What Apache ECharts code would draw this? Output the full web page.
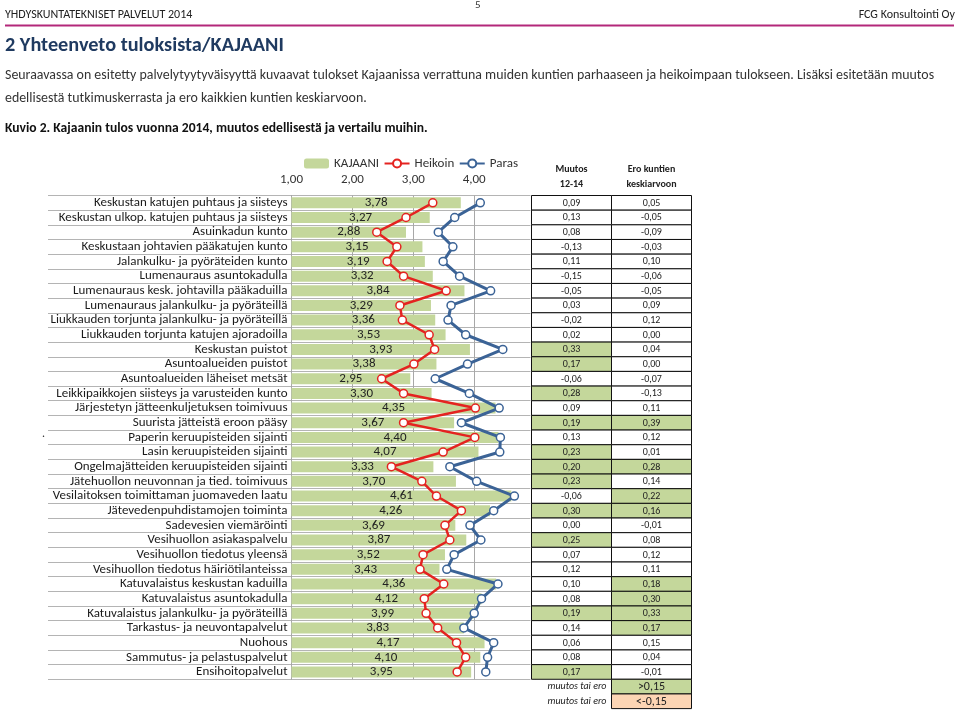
<!DOCTYPE html>
<html><head><meta charset="utf-8">
<script src="https://cdn.jsdelivr.net/npm/echarts@6/dist/echarts.min.js"></script>
<style>html,body{margin:0;padding:0;background:#fff}#c{width:959px;height:711px}</style>
</head><body><div id="c"></div>
<script>
const categories = [
 'Keskustan katujen puhtaus ja siisteys','Keskustan ulkop. katujen puhtaus ja siisteys','Asuinkadun kunto',
 'Keskustaan johtavien pääkatujen kunto','Jalankulku- ja pyöräteiden kunto','Lumenauraus asuntokadulla',
 'Lumenauraus kesk. johtavilla pääkaduilla','Lumenauraus jalankulku- ja pyöräteillä','Liukkauden torjunta jalankulku- ja pyöräteillä',
 'Liukkauden torjunta katujen ajoradoilla','Keskustan puistot','Asuntoalueiden puistot','Asuntoalueiden läheiset metsät',
 'Leikkipaikkojen siisteys ja varusteiden kunto','Järjestetyn jätteenkuljetuksen toimivuus','Suurista jätteistä eroon pääsy',
 'Paperin keruupisteiden sijainti','Lasin keruupisteiden sijainti','Ongelmajätteiden keruupisteiden sijainti',
 'Jätehuollon neuvonnan ja tied. toimivuus','Vesilaitoksen toimittaman juomaveden laatu','Jätevedenpuhdistamojen toiminta',
 'Sadevesien viemäröinti','Vesihuollon asiakaspalvelu','Vesihuollon tiedotus yleensä','Vesihuollon tiedotus häiriötilanteissa',
 'Katuvalaistus keskustan kaduilla','Katuvalaistus asuntokadulla','Katuvalaistus jalankulku- ja pyöräteillä',
 'Tarkastus- ja neuvontapalvelut','Nuohous','Sammutus- ja pelastuspalvelut','Ensihoitopalvelut'];
const kajaani = [3.78,3.27,2.88,3.15,3.19,3.32,3.84,3.29,3.36,3.53,3.93,3.38,2.95,3.30,4.35,3.67,4.40,4.07,3.33,3.70,4.61,4.26,3.69,3.87,3.52,3.43,4.36,4.12,3.99,3.83,4.17,4.10,3.95];
const heikoin = [3.32,2.88,2.40,2.73,2.57,2.84,3.54,2.78,2.82,3.26,3.35,3.01,2.48,2.84,4.02,2.84,4.01,3.49,2.64,3.14,3.38,3.79,3.52,3.60,3.16,3.11,3.50,3.18,3.21,3.40,3.71,3.86,3.72];
const paras = [4.10,3.68,3.41,3.65,3.49,3.76,4.27,3.62,3.57,3.86,4.47,3.89,3.36,3.92,4.41,3.79,4.43,4.42,3.60,4.04,4.66,4.32,3.93,4.11,3.67,3.55,4.39,4.12,4.00,3.83,4.32,4.22,4.19];
const muutos = [0.09,0.13,0.08,-0.13,0.11,-0.15,-0.05,0.03,-0.02,0.02,0.33,0.17,-0.06,0.28,0.09,0.19,0.13,0.23,0.20,0.23,-0.06,0.30,0.00,0.25,0.07,0.12,0.10,0.08,0.19,0.14,0.06,0.08,0.17];
const ero = [0.05,-0.05,-0.09,-0.03,0.10,-0.06,-0.05,0.09,0.12,0.00,0.04,0.00,-0.07,-0.13,0.11,0.39,0.12,0.01,0.28,0.14,0.22,0.16,-0.01,0.08,0.12,0.11,0.18,0.30,0.33,0.17,0.15,0.04,-0.01];
const tableHeaders = ['Muutos\n12-14','Ero kuntien\nkeskiarvoon'];
const keyLabel = 'muutos tai ero';
const keyThresholds = ['>0,15','<-0,15'];
const xTickValues = [1,2,3,4];

const FONT = 'Carlito, "Liberation Sans Narrow", "Open Sans", sans-serif';
const GREEN = '#c4d79b', PEACH = '#fcd5b4', RED = '#e42320', BLUE = '#3b6396';
const fmt = v => v.toFixed(2).replace('.', ',');

const ROWH = 14.66, TOP = 195.5, N = categories.length;
const rowIdx = categories.map((_, i) => i);
const tableRows = rowIdx.concat([N, N + 1]);

const cells = [];
rowIdx.forEach(i => { cells.push({col:0,row:i,kind:'v',v:muutos[i]}); cells.push({col:1,row:i,kind:'v',v:ero[i]}); });
keyThresholds.forEach((t, k) => { cells.push({col:0,row:N+k,kind:'key',text:keyLabel}); cells.push({col:1,row:N+k,kind:'box',text:t,fill:k===0?GREEN:PEACH}); });

const chart = echarts.init(document.getElementById('c'), null, {renderer:'canvas'});
chart.setOption({
  animation:false,
  textStyle:{fontFamily:FONT},
  legend:{left:299, top:152, itemGap:4.5, itemWidth:25, itemHeight:10,
    textStyle:{fontSize:13, color:'#333', fontFamily:FONT},
    data:['KAJAANI','Heikoin','Paras']},
  grid:[
    {left:291.5, top:TOP, width:243.6, height:N*ROWH},
    {left:48, top:TOP, width:482.5, height:N*ROWH},
    {left:531.5, top:TOP, width:160, height:(N+2)*ROWH}
  ],
  xAxis:[
    {gridIndex:0, type:'value', min:1, max:5, interval:1, position:'top',
     axisLine:{show:false}, axisTick:{show:false},
     axisLabel:{fontSize:13, color:'#333', margin:9, fontFamily:FONT,
       formatter:v => xTickValues.indexOf(v) >= 0 ? fmt(v) : ''},
     splitLine:{show:true, lineStyle:{color:'#a8a8a8', width:1}}},
    {gridIndex:1, type:'value', show:false},
    {gridIndex:2, type:'category', data:tableHeaders, position:'top',
     axisLine:{show:false}, axisTick:{show:false},
     axisLabel:{fontSize:10, fontWeight:'bold', color:'#222', lineHeight:15, margin:4, fontFamily:FONT}}
  ],
  yAxis:[
    {gridIndex:0, type:'category', data:categories, inverse:true,
     axisLine:{show:true, lineStyle:{color:'#a8a8a8'}}, axisTick:{show:false},
     axisLabel:{interval:0, fontSize:13, color:'#1a1a1a', margin:4, fontFamily:FONT}},
    {gridIndex:1, type:'category', data:rowIdx, inverse:true,
     axisLine:{show:false}, axisTick:{show:false}, axisLabel:{show:false},
     splitLine:{show:true, interval:0, lineStyle:{color:'#b4b4b4', width:1}}},
    {gridIndex:2, type:'category', data:tableRows, inverse:true, show:false}
  ],
  series:[
    {name:'KAJAANI', type:'bar', xAxisIndex:0, yAxisIndex:0, data:kajaani, barWidth:11,
     itemStyle:{color:GREEN}, z:2,
     label:{show:true, position:'inside', fontSize:13, color:'#222', fontFamily:FONT, formatter:p => fmt(p.value)}},
    {name:'Heikoin', type:'line', xAxisIndex:0, yAxisIndex:0, data:heikoin, symbol:'circle', symbolSize:8, z:4,
     lineStyle:{color:RED, width:2.5}, itemStyle:{color:'#fff', borderColor:RED, borderWidth:1.5}},
    {name:'Paras', type:'line', xAxisIndex:0, yAxisIndex:0, data:paras, symbol:'circle', symbolSize:8, z:4,
     lineStyle:{color:BLUE, width:3}, itemStyle:{color:'#fff', borderColor:BLUE, borderWidth:1.5}},
    {name:'table', type:'custom', xAxisIndex:2, yAxisIndex:2, z:10,
     data:cells.map(c => [c.col, c.row]),
     renderItem:function(params, api){
       const c = cells[params.dataIndex];
       const p = api.coord([c.col, c.row]);
       const s = api.size([1, 1]);
       const x0 = p[0] - s[0]/2, y0 = p[1] - s[1]/2;
       if (c.kind === 'key') {
         return {type:'text', style:{text:c.text, x:x0 + s[0] - 5, y:p[1], align:'right', verticalAlign:'middle',
           fontSize:10, fontStyle:'italic', fontFamily:FONT, fill:'#222'}};
       }
       let fill = '#fff', text;
       if (c.kind === 'v') { fill = c.v > 0.15 ? GREEN : (c.v < -0.15 ? PEACH : '#fff'); text = fmt(c.v); }
       else { fill = c.fill; text = c.text; }
       return {type:'group', children:[
         {type:'rect', shape:{x:x0, y:y0, width:s[0], height:s[1]}, style:{fill:fill, stroke:'#111', lineWidth:1}},
         {type:'text', style:{text:text, x:p[0], y:p[1]+0.5, align:'center', verticalAlign:'middle',
           fontSize:c.kind==='box'?12:10, fontFamily:FONT, fill:'#222'}}
       ]};
     }}
  ],
  graphic:[
    {type:'text', left:475, top:0, style:{text:'5', fontSize:11, fontFamily:FONT, fill:'#333'}},
    {type:'text', left:5, top:9, style:{text:'YHDYSKUNTATEKNISET PALVELUT 2014', fontSize:12, fontFamily:FONT, fill:'#222'}},
    {type:'text', right:4, top:9, style:{text:'FCG Konsultointi Oy', fontSize:12, fontFamily:FONT, fill:'#222'}},
    {type:'line', shape:{x1:5, y1:25.5, x2:954, y2:25.5}, style:{stroke:'#b3287a', lineWidth:2}},
    {type:'text', left:5, top:36, style:{text:'2 Yhteenveto tuloksista/KAJAANI', fontSize:20.3, fontWeight:'bold', fontFamily:FONT, fill:'#1f3a60'}},
    {type:'text', left:5, top:69, style:{text:'Seuraavassa on esitetty palvelytyytyväisyyttä kuvaavat tulokset Kajaanissa verrattuna muiden kuntien parhaaseen ja heikoimpaan tulokseen. Lisäksi esitetään muutos', fontSize:13.9, fontFamily:FONT, fill:'#333'}},
    {type:'text', left:5, top:92, style:{text:'edellisestä tutkimuskerrasta ja ero kaikkien kuntien keskiarvoon.', fontSize:13.9, fontFamily:FONT, fill:'#333'}},
    {type:'text', left:5, top:122, style:{text:'Kuvio 2. Kajaanin tulos vuonna 2014, muutos edellisestä ja vertailu muihin.', fontSize:13.6, fontWeight:'bold', fontFamily:FONT, fill:'#111'}},
    {type:'text', left:42, top:428, style:{text:'.', fontSize:12, fontFamily:FONT, fill:'#333'}}
  ]
});
</script></body></html>
